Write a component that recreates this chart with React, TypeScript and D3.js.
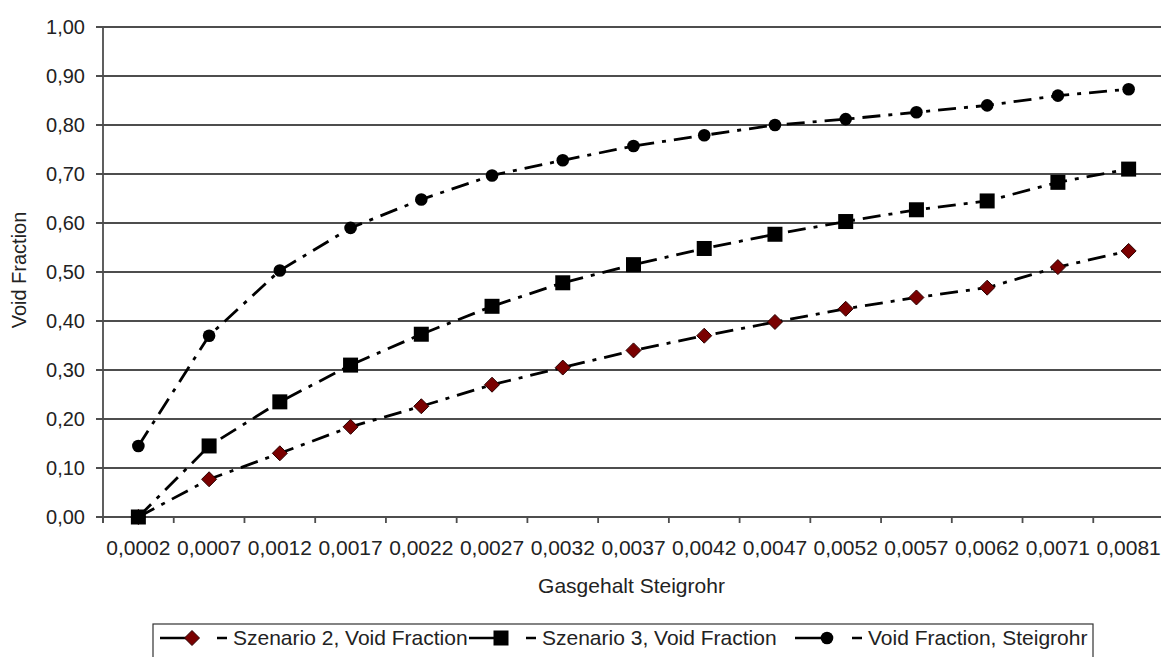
import React from "react";
import * as d3 from "d3";

const categories = ["0,0002","0,0007","0,0012","0,0017","0,0022","0,0027","0,0032","0,0037","0,0042","0,0047","0,0052","0,0057","0,0062","0,0071","0,0081"];
const szenario2 = [0.0,0.077,0.13,0.184,0.226,0.27,0.305,0.34,0.37,0.398,0.425,0.448,0.468,0.51,0.543];
const szenario3 = [0.0,0.145,0.235,0.31,0.373,0.43,0.478,0.515,0.548,0.577,0.603,0.627,0.645,0.683,0.71];
const steigrohr = [0.145,0.37,0.503,0.59,0.648,0.697,0.728,0.757,0.779,0.80,0.812,0.826,0.84,0.86,0.873];
const yTicks = [0,0.1,0.2,0.3,0.4,0.5,0.6,0.7,0.8,0.9,1.0];
const seriesNames = ["Szenario 2, Void Fraction","Szenario 3, Void Fraction","Void Fraction, Steigrohr"];

const W = 1161, H = 657;
const left = 103, right = 1164, top = 27, bottom = 517;
const FONT = "'Liberation Sans', Arial, sans-serif";
const GRID = "#4d4d4d";

function Marker({ kind, x, y }: { kind: string; x: number; y: number }) {
  if (kind === "diamond") {
    const s = 7.5;
    return <path d={`M${x},${y - s}L${x + s},${y}L${x},${y + s}L${x - s},${y}Z`} fill="#7a0000" stroke="#2a0000" strokeWidth={1} />;
  }
  if (kind === "square") {
    const s = 7.5;
    return <rect x={x - s} y={y - s} width={2 * s} height={2 * s} fill="#000" />;
  }
  return <circle cx={x} cy={y} r={6.3} fill="#000" />;
}

export default function App() {
  const x = d3.scaleBand<string>().domain(categories).range([left, right]);
  const bw = x.bandwidth();
  const cx = (c: string) => (x(c) as number) + bw / 2;
  const y = d3.scaleLinear().domain([0, 1]).range([bottom, top]);
  const fmt = (v: number) => v.toFixed(2).replace(".", ",");
  const line = d3.line<number>().x((_, i) => cx(categories[i])).y((d) => y(d));
  const series = [
    { name: seriesNames[0], data: szenario2, kind: "diamond" },
    { name: seriesNames[1], data: szenario3, kind: "square" },
    { name: seriesNames[2], data: steigrohr, kind: "circle" },
  ];
  const dash = "18,8,4,8";
  const legendTextX = [233, 542, 868];
  const legendY = 638;

  return (
    <svg width={W} height={H} style={{ position: "absolute", left: 0, top: 0, background: "#fff" }} fontFamily={FONT}>
      {yTicks.map((t) => (
        <g key={t}>
          <line x1={96} x2={W} y1={y(t)} y2={y(t)} stroke={GRID} strokeWidth={1.8} />
          <text x={85} y={y(t) + 7} textAnchor="end" fontSize={20} fill="#222">{fmt(t)}</text>
        </g>
      ))}
      <line x1={left} x2={left} y1={top} y2={bottom + 6} stroke={GRID} strokeWidth={1.8} />
      {d3.range(categories.length + 1).map((i) => (
        <line key={i} x1={left + i * bw} x2={left + i * bw} y1={bottom} y2={bottom + 6} stroke={GRID} strokeWidth={1.8} />
      ))}
      {categories.map((c) => (
        <text key={c} x={cx(c)} y={555} textAnchor="middle" fontSize={21} fill="#222">{c}</text>
      ))}
      <text x={(left + right) / 2 - 2} y={593} textAnchor="middle" fontSize={21} fill="#222">Gasgehalt Steigrohr</text>
      <text transform={`translate(26,270) rotate(-90)`} textAnchor="middle" fontSize={20} fill="#222">Void Fraction</text>
      {series.map((s) => (
        <g key={s.name}>
          <path d={line(s.data) || ""} fill="none" stroke="#000" strokeWidth={2.8} strokeDasharray={dash} />
          {s.data.map((v, i) => (
            <Marker key={i} kind={s.kind} x={cx(categories[i])} y={y(v)} />
          ))}
        </g>
      ))}
      <rect x={153} y={624} width={940} height={40} fill="#fff" stroke="#333" strokeWidth={1.2} />
      {series.map((s, i) => {
        const tx = legendTextX[i];
        return (
          <g key={s.name}>
            <line x1={tx - 73} x2={tx - 6} y1={legendY} y2={legendY} stroke="#000" strokeWidth={2.6} strokeDasharray="33,24,10" />
            <Marker kind={s.kind} x={tx - 41} y={legendY} />
            <text x={tx} y={legendY + 7} fontSize={21} fill="#222">{s.name}</text>
          </g>
        );
      })}
    </svg>
  );
}
